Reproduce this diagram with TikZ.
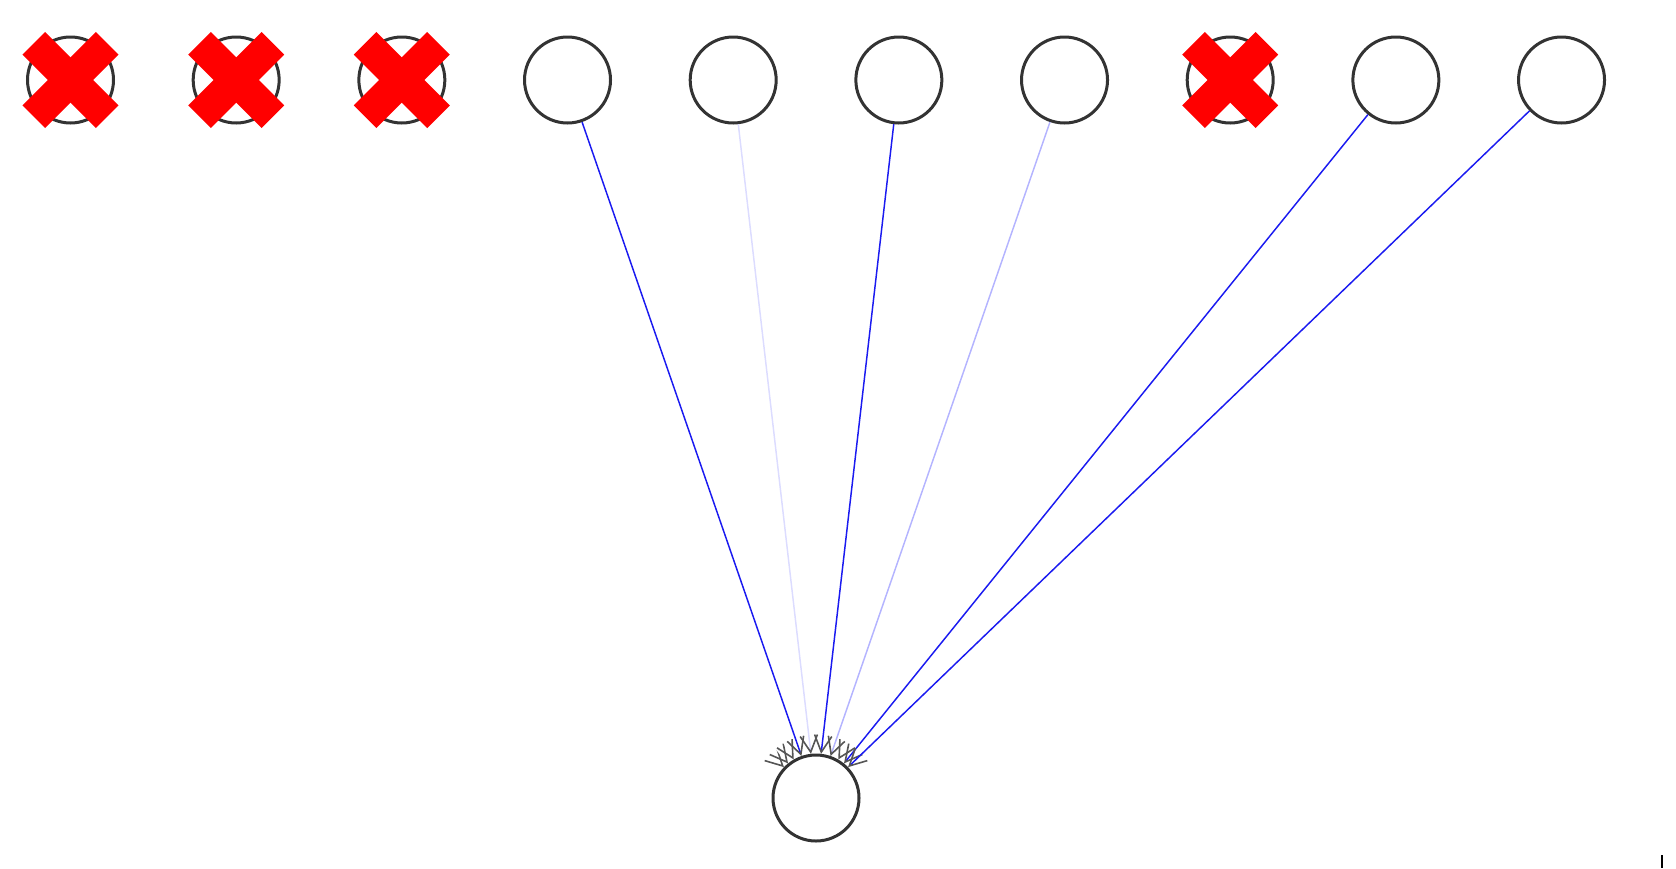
\documentclass[tikz,border=0pt]{standalone}
\usetikzlibrary{arrows.meta,calc}
\definecolor{ringc}{HTML}{333333}
\definecolor{edgeblue}{HTML}{1A1AF0}
\definecolor{edgefaint}{HTML}{DCDCFF}
\definecolor{edgelight}{HTML}{B4B4FF}
\definecolor{tipgrey}{HTML}{555555}
\tikzset{
  unit/.style={circle, draw=ringc, line width=2.25pt, fill=white, minimum size=64.5pt, inner sep=0pt},
  edge/.style={line width=1.1pt, -{Straight Barb[length=12.5pt,width=13pt,color=tipgrey,line width=1.2pt]}},
  ghost/.style={edge, white},
  cross/.style={draw=red, line width=24pt, line cap=butt}
}
\begin{document}
\begin{tikzpicture}[x=0.75pt,y=-0.75pt]
\useasboundingbox (0,0) rectangle (1676,868);
\foreach \i in {1,...,10} {
  \node[unit] (n\i) at ({70.5+165.67*(\i-1)},80) {};
}
\node[unit] (b) at (816,798) {};
\draw[ghost] (n1) -- (b);
\draw[ghost] (n2) -- (b);
\draw[ghost] (n3) -- (b);
\draw[ghost] (n8) -- (b);
\draw[edge, edgeblue] (n4) -- (b);
\draw[edge, edgefaint] (n5) -- (b);
\draw[edge, edgeblue] (n6) -- (b);
\draw[edge, edgelight] (n7) -- (b);
\draw[edge, edgeblue] (n9) -- (b);
\draw[edge, edgeblue] (n10) -- (b);
\foreach \i in {1,2,3,8} {
  \draw[cross] ($(n\i.center)+(-36.7,-36.7)$) -- ($(n\i.center)+(36.7,36.7)$);
  \draw[cross] ($(n\i.center)+(-36.7,36.7)$) -- ($(n\i.center)+(36.7,-36.7)$);
}
\coordinate (tk1) at (1662,855);
\coordinate (tk2) at (1662,868);
\draw[line width=1.2pt, black] (tk1) -- (tk2);
\end{tikzpicture}
\end{document}
